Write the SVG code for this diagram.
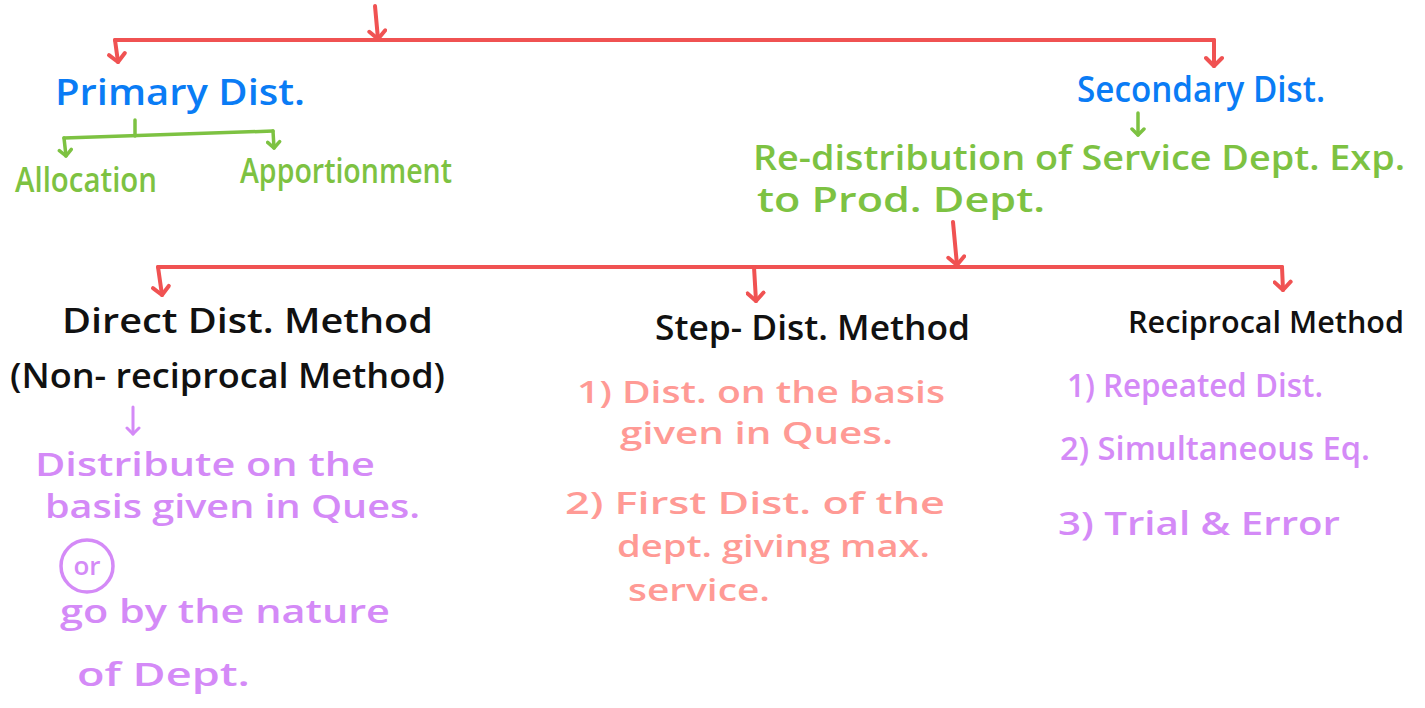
<svg xmlns="http://www.w3.org/2000/svg" width="1425" height="708" viewBox="0 0 1425 708">
  <defs>
    <style>
      text { font-family: "Open Sans", "Liberation Sans", sans-serif; font-weight: 600; }
      .blue { fill: #0A7CF5; font-size: 36px; }
      .green { fill: #7DC242; font-size: 34px; }
      .black { fill: #111111; font-size: 34px; }
      .purple { fill: #D48AF7; font-size: 33px; }
      .salmon { fill: #FF9A95; font-size: 31px; }
      .red-line { stroke: #F05252; stroke-width: 4; fill: none; stroke-linecap: round; stroke-linejoin: round; }
      .green-line { stroke: #7DC242; stroke-width: 3.5; fill: none; stroke-linecap: round; stroke-linejoin: round; }
      .purple-line { stroke: #D48AF7; stroke-width: 3; fill: none; stroke-linecap: round; stroke-linejoin: round; }
    </style>
    <!-- open V arrowheads, drawn along +x so orient="auto" follows the line -->
    <marker id="head-red" viewBox="0 0 20 20" refX="17" refY="10" markerWidth="20" markerHeight="20" markerUnits="userSpaceOnUse" orient="auto">
      <polyline points="9,2 17,10 9,18" fill="none" stroke="#F05252" stroke-width="4" stroke-linecap="round" stroke-linejoin="round"/>
    </marker>
    <marker id="head-green" viewBox="0 0 16 16" refX="13" refY="8" markerWidth="16" markerHeight="16" markerUnits="userSpaceOnUse" orient="auto">
      <polyline points="7,2 13,8 7,14" fill="none" stroke="#7DC242" stroke-width="3.5" stroke-linecap="round" stroke-linejoin="round"/>
    </marker>
    <marker id="head-purple" viewBox="0 0 16 16" refX="13" refY="8" markerWidth="16" markerHeight="16" markerUnits="userSpaceOnUse" orient="auto">
      <polyline points="7,2 13,8 7,14" fill="none" stroke="#D48AF7" stroke-width="3" stroke-linecap="round" stroke-linejoin="round"/>
    </marker>
  </defs>

  <rect width="1425" height="708" fill="#ffffff"/>

  <!-- connectors -->
  <g id="connectors">
    <!-- top split -->
    <path class="red-line" d="M375,6 L378,39" marker-end="url(#head-red)"/>
    <path class="red-line" d="M115,40 L1214,40"/>
    <path class="red-line" d="M115,40 L118,62" marker-end="url(#head-red)"/>
    <path class="red-line" d="M1214,40 L1214,66" marker-end="url(#head-red)"/>
    <!-- primary branches -->
    <path class="green-line" d="M135,120 L135,136"/>
    <path class="green-line" d="M64,138 L273,131"/>
    <path class="green-line" d="M64,138 L66,156" marker-end="url(#head-green)"/>
    <path class="green-line" d="M273,131 L274,148" marker-end="url(#head-green)"/>
    <!-- secondary -->
    <path class="green-line" d="M1138,113 L1138,135" marker-end="url(#head-green)"/>
    <path class="red-line" d="M953,222 L957,265" marker-end="url(#head-red)"/>
    <path class="red-line" d="M158,267 L1282,267"/>
    <path class="red-line" d="M158,267 L162,295" marker-end="url(#head-red)"/>
    <path class="red-line" d="M754,267 L756,301" marker-end="url(#head-red)"/>
    <path class="red-line" d="M1282,267 L1283,290" marker-end="url(#head-red)"/>
    <!-- direct method note -->
    <path class="purple-line" d="M133,407 L133,434" marker-end="url(#head-purple)"/>
  </g>

  <g id="primary">
    <text class="blue" x="55" y="105" textLength="250" lengthAdjust="spacingAndGlyphs">Primary Dist.</text>
  </g>
  <g id="allocation">
    <text class="green" x="15" y="192" textLength="142" lengthAdjust="spacingAndGlyphs">Allocation</text>
  </g>
  <g id="apportionment">
    <text class="green" x="240" y="183" textLength="212" lengthAdjust="spacingAndGlyphs">Apportionment</text>
  </g>

  <g id="secondary">
    <text class="blue" x="1077" y="102" textLength="248" lengthAdjust="spacingAndGlyphs">Secondary Dist.</text>
  </g>
  <g id="redistribution">
    <text class="green" x="753" y="170" textLength="652" lengthAdjust="spacingAndGlyphs">Re-distribution of Service Dept. Exp.</text>
    <text class="green" x="757" y="212" textLength="288" lengthAdjust="spacingAndGlyphs">to Prod. Dept.</text>
  </g>

  <g id="direct-method">
    <text class="black" x="62" y="333" textLength="371" lengthAdjust="spacingAndGlyphs">Direct Dist. Method</text>
    <text class="black" x="10" y="388" textLength="435" lengthAdjust="spacingAndGlyphs">(Non- reciprocal Method)</text>
  </g>
  <g id="direct-note">
    <text class="purple" x="35" y="476" textLength="340" lengthAdjust="spacingAndGlyphs">Distribute on the</text>
    <text class="purple" x="45" y="518" textLength="375" lengthAdjust="spacingAndGlyphs">basis given in Ques.</text>
    <circle cx="87" cy="566" r="26" fill="none" stroke="#D48AF7" stroke-width="3.5"/>
    <text class="purple" x="87" y="575" text-anchor="middle" style="font-size:26px">or</text>
    <text class="purple" x="60" y="623" textLength="330" lengthAdjust="spacingAndGlyphs">go by the nature</text>
    <text class="purple" x="77" y="686" textLength="173" lengthAdjust="spacingAndGlyphs">of Dept.</text>
  </g>

  <g id="step-method">
    <text class="black" x="655" y="340" textLength="315" lengthAdjust="spacingAndGlyphs">Step- Dist. Method</text>
  </g>
  <g id="step-note">
    <text class="salmon" x="577" y="403" textLength="368" lengthAdjust="spacingAndGlyphs">1) Dist. on the basis</text>
    <text class="salmon" x="620" y="444" textLength="273" lengthAdjust="spacingAndGlyphs">given in Ques.</text>
    <text class="salmon" x="565" y="514" textLength="380" lengthAdjust="spacingAndGlyphs">2) First Dist. of the</text>
    <text class="salmon" x="617" y="557" textLength="313" lengthAdjust="spacingAndGlyphs">dept. giving max.</text>
    <text class="salmon" x="628" y="601" textLength="142" lengthAdjust="spacingAndGlyphs">service.</text>
  </g>

  <g id="reciprocal-method">
    <text class="black" x="1128" y="333" textLength="276" lengthAdjust="spacingAndGlyphs" style="font-size:31px">Reciprocal Method</text>
  </g>
  <g id="reciprocal-note">
    <text class="purple" x="1067" y="397" textLength="256" lengthAdjust="spacingAndGlyphs">1) Repeated Dist.</text>
    <text class="purple" x="1060" y="460" textLength="310" lengthAdjust="spacingAndGlyphs">2) Simultaneous Eq.</text>
    <text class="purple" x="1058" y="535" textLength="282" lengthAdjust="spacingAndGlyphs">3) Trial &amp; Error</text>
  </g>
</svg>
